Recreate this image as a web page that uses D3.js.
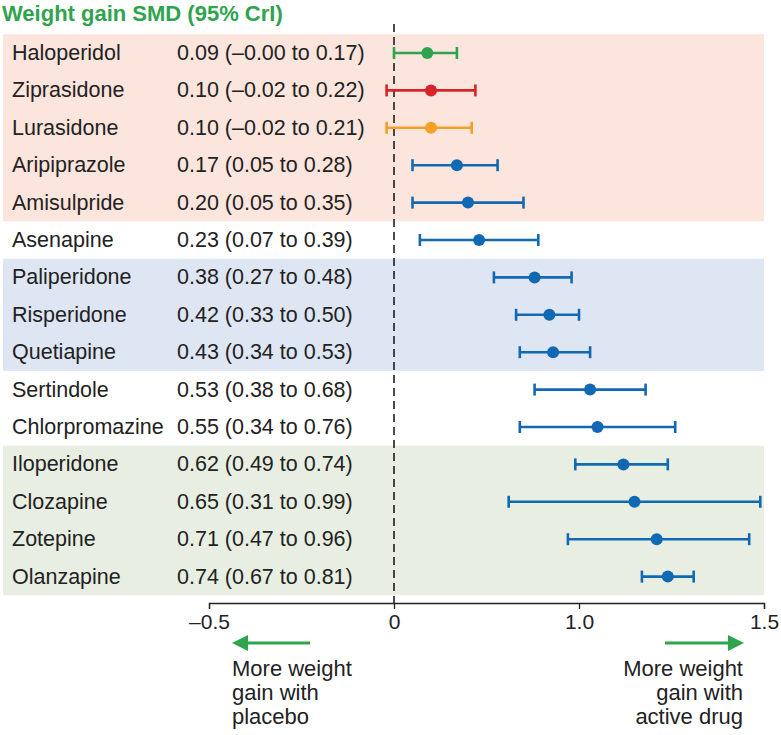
<!DOCTYPE html>
<html><head><meta charset="utf-8">
<script src="https://cdn.jsdelivr.net/npm/d3@7"></script>
<style>body{margin:0;background:#fff}svg{display:block}text{font-family:"Liberation Sans",Arial,sans-serif}</style>
</head><body><div id="c"></div>
<script>
const drugs=["Haloperidol","Ziprasidone","Lurasidone","Aripiprazole","Amisulpride","Asenapine","Paliperidone","Risperidone","Quetiapine","Sertindole","Chlorpromazine","Iloperidone","Clozapine","Zotepine","Olanzapine"];
const estimates=[0.09,0.10,0.10,0.17,0.20,0.23,0.38,0.42,0.43,0.53,0.55,0.62,0.65,0.71,0.74];
const lower=[-0.00,-0.02,-0.02,0.05,0.05,0.07,0.27,0.33,0.34,0.38,0.34,0.49,0.31,0.47,0.67];
const upper=[0.17,0.22,0.21,0.28,0.35,0.39,0.48,0.50,0.53,0.68,0.76,0.74,0.99,0.96,0.81];
const labels=["0.09 (–0.00 to 0.17)","0.10 (–0.02 to 0.22)","0.10 (–0.02 to 0.21)","0.17 (0.05 to 0.28)","0.20 (0.05 to 0.35)","0.23 (0.07 to 0.39)","0.38 (0.27 to 0.48)","0.42 (0.33 to 0.50)","0.43 (0.34 to 0.53)","0.53 (0.38 to 0.68)","0.55 (0.34 to 0.76)","0.62 (0.49 to 0.74)","0.65 (0.31 to 0.99)","0.71 (0.47 to 0.96)","0.74 (0.67 to 0.81)"];
const pointColors=["green","red","orange","blue","blue","blue","blue","blue","blue","blue","blue","blue","blue","blue","blue"];
const bands=[{from:0,to:4,fill:"#fce5dc"},{from:6,to:8,fill:"#dfe6f3"},{from:11,to:14,fill:"#e8efe2"}];
const tickValues=[-0.5,0,0.5,1.0];
const tickLabels=["–0.5","0","1.0","1.5"];
const palette={green:"#2fa44f",red:"#d8232a",orange:"#f5a025",blue:"#1169b3"};

const W=781,H=735;
const svg=d3.select("#c").append("svg").attr("width",W).attr("height",H);
const x=d3.scaleLinear().domain([-0.5,1.0]).range([209,764]);
const y=d3.scaleBand().domain(d3.range(drugs.length)).range([34.3,34.3+37.4*15]);
const cy=i=>y(i)+y.bandwidth()/2;

svg.append("g").selectAll("rect").data(bands).join("rect")
 .attr("x",3).attr("width",761)
 .attr("y",d=>y(d.from)).attr("height",d=>y(d.to)+y.bandwidth()-y(d.from))
 .attr("fill",d=>d.fill);

svg.append("text").attr("x",2).attr("y",21).attr("font-size",22).attr("font-weight","bold")
 .attr("fill","#2fa44f").text("Weight gain SMD (95% CrI)");

svg.append("line").attr("x1",x(0)).attr("x2",x(0)).attr("y1",24).attr("y2",603)
 .attr("stroke","#111").attr("stroke-width",1.5).attr("stroke-dasharray","8,5");

const rows=svg.append("g").selectAll("g").data(drugs).join("g");
rows.append("text").attr("x",12).attr("y",(d,i)=>cy(i)+7).attr("font-size",21.5).attr("fill","#222").text(d=>d);
rows.append("text").attr("x",177).attr("y",(d,i)=>cy(i)+7).attr("font-size",21.5).attr("fill","#222").text((d,i)=>labels[i]);
const col=i=>palette[pointColors[i]];
rows.append("line").attr("x1",(d,i)=>x(lower[i])).attr("x2",(d,i)=>x(upper[i]))
 .attr("y1",(d,i)=>cy(i)).attr("y2",(d,i)=>cy(i)).attr("stroke",(d,i)=>col(i)).attr("stroke-width",2.6);
[lower,upper].forEach(arr=>{
 rows.append("line").attr("x1",(d,i)=>x(arr[i])).attr("x2",(d,i)=>x(arr[i]))
  .attr("y1",(d,i)=>cy(i)-6).attr("y2",(d,i)=>cy(i)+6).attr("stroke",(d,i)=>col(i)).attr("stroke-width",2.6);
});
rows.append("circle").attr("cx",(d,i)=>x(estimates[i])).attr("cy",(d,i)=>cy(i)).attr("r",6).attr("fill",(d,i)=>col(i));

const ax=svg.append("g").attr("transform","translate(0,603)")
 .call(d3.axisBottom(x).tickValues(tickValues).tickFormat((d,i)=>tickLabels[i]).tickSize(6).tickPadding(5));
ax.select(".domain").attr("stroke","#222").attr("stroke-width",1.3);
ax.selectAll(".tick line").attr("stroke","#222").attr("stroke-width",1.3);
ax.selectAll(".tick text").attr("font-size",21).attr("fill","#222").attr("font-family","Liberation Sans, Arial, sans-serif");

const green="#2fa44f";
function arrow(x1,x2,yy){
 const dir=Math.sign(x2-x1);
 svg.append("line").attr("x1",x1).attr("x2",x2-dir*12).attr("y1",yy).attr("y2",yy).attr("stroke",green).attr("stroke-width",3);
 svg.append("path").attr("d",`M${x2},${yy} L${x2-dir*16},${yy-8} L${x2-dir*16},${yy+8} Z`).attr("fill",green);
}
arrow(310,232,643);
arrow(665,744,643);
const leftNote=["More weight","gain with","placebo"], rightNote=["More weight","gain with","active drug"];
leftNote.forEach((t,i)=>svg.append("text").attr("x",232).attr("y",676+i*24).attr("font-size",22).attr("fill","#222").text(t));
rightNote.forEach((t,i)=>svg.append("text").attr("x",743).attr("y",676+i*24).attr("text-anchor","end").attr("font-size",22).attr("fill","#222").text(t));
</script></body></html>
